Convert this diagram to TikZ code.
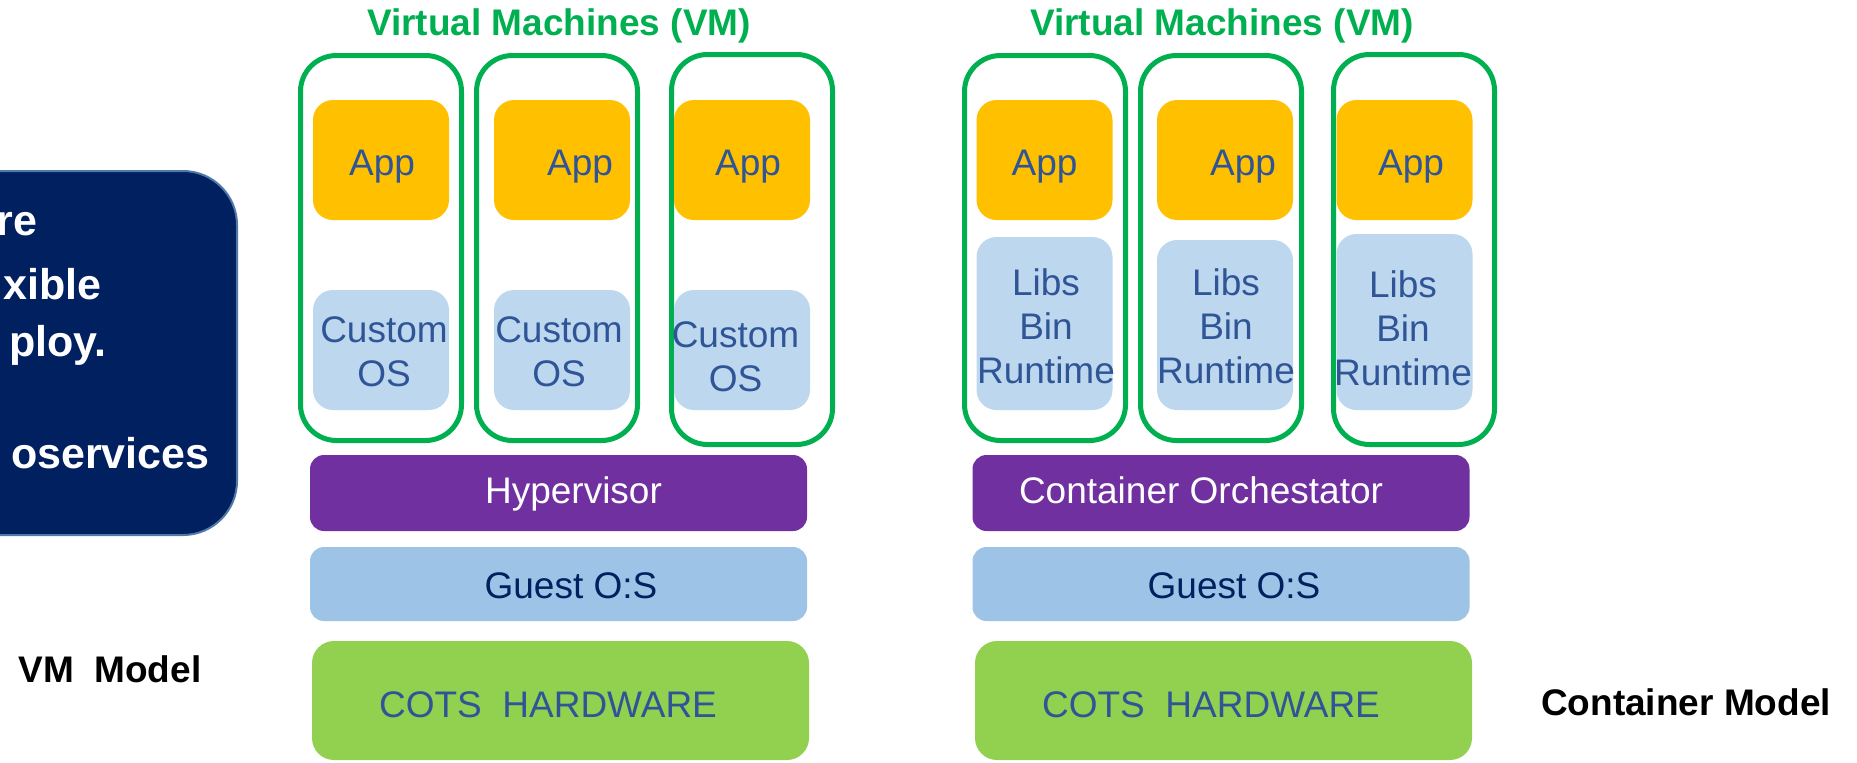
\documentclass[tikz,border=0pt]{standalone}
\usepackage{fontspec}
\setmainfont{Liberation Sans}
\definecolor{vmgreen}{HTML}{00B050}
\definecolor{appyellow}{HTML}{FFC000}
\definecolor{oslight}{HTML}{BDD7EE}
\definecolor{hyppurple}{HTML}{7030A0}
\definecolor{guestblue}{HTML}{9DC3E6}
\definecolor{hwgreen}{HTML}{92D050}
\definecolor{textblue}{HTML}{2F5597}
\definecolor{navy}{HTML}{002060}
\definecolor{edgeblue}{HTML}{4F79A8}
\tikzset{
  vmbox/.style={draw=vmgreen, line width=2.5pt, rounded corners=18pt,
    minimum width=80.5pt, minimum height=192.5pt, inner sep=0pt},
  appbox/.style={fill=appyellow, rounded corners=10pt,
    minimum width=68pt, minimum height=60pt, inner sep=0pt},
  osbox/.style={fill=oslight, rounded corners=10pt, minimum width=68pt, inner sep=0pt},
  layer/.style={rounded corners=7pt, minimum width=248.5pt, inner sep=0pt},
  lbl/.style={font=\fontsize{18.5}{22}\selectfont, text=textblue, inner sep=0pt},
  heading/.style={font=\bfseries\fontsize{18.5}{22}\selectfont, inner sep=0pt},
  introtxt/.style={font=\bfseries\fontsize{21.5}{26}\selectfont, text=white, inner sep=0pt, anchor=base east}
}
\begin{document}
\begin{tikzpicture}[x=0.5pt,y=-0.5pt]
  \useasboundingbox (0,0) rectangle (1857,762);
  \clip (0,0) rectangle (1857,762);
  % box on the left, cut by the page edge
  \node[fill=navy, draw=edgeblue, line width=1pt, rounded corners=27pt,
    minimum width=178.5pt, minimum height=182pt, inner sep=0pt] (intro) at (58.5,353) {};
  \node[introtxt] (intro1) at (38,235) {re};
  \node[introtxt] (intro2) at (102,299) {xible};
  \node[introtxt] (intro3) at (107,356) {ploy.};
  \node[introtxt] (intro4) at (210,468) {oservices};
  % titles
  \node[heading, text=vmgreen, anchor=base] (title1) at (559,35) {Virtual Machines (VM)};
  \node[heading, text=vmgreen, anchor=base] (title2) at (1222,35) {Virtual Machines (VM)};
  % VM frames
  \node[vmbox] (vm1) at (381,248) {};
  \node[vmbox] (vm2) at (557,248) {};
  \node[vmbox, minimum height=195pt] (vm3) at (752,249.5) {};
  \node[vmbox] (vm4) at (1045,248) {};
  \node[vmbox] (vm5) at (1221,248) {};
  \node[vmbox, minimum height=195pt] (vm6) at (1414,249.5) {};
  % apps
  \node[appbox] (app1) at (381,160) {};
  \node[appbox] (app2) at (562,160) {};
  \node[appbox] (app3) at (742,160) {};
  \node[appbox] (app4) at (1044.5,160) {};
  \node[appbox] (app5) at (1225,160) {};
  \node[appbox] (app6) at (1404.5,160) {};
  \node[lbl, anchor=base] (app1-t) at (382,175) {App};
  \node[lbl, anchor=base] (app2-t) at (580,175) {App};
  \node[lbl, anchor=base] (app3-t) at (748,175) {App};
  \node[lbl, anchor=base] (app4-t) at (1044.5,175) {App};
  \node[lbl, anchor=base] (app5-t) at (1243,175) {App};
  \node[lbl, anchor=base] (app6-t) at (1411,175) {App};
  % custom OS (VM model)
  \node[osbox, minimum height=60pt] (os1) at (381,350) {};
  \node[osbox, minimum height=60pt] (os2) at (562,350) {};
  \node[osbox, minimum height=60pt] (os3) at (742,350) {};
  \node[lbl, align=center] (os1-t) at (384,352) {Custom\\OS};
  \node[lbl, align=center] (os2-t) at (559,352) {Custom\\OS};
  \node[lbl, align=center] (os3-t) at (735.5,356.5) {Custom\\OS};
  % libs (container model)
  \node[osbox, minimum height=86.5pt] (libs1) at (1044.5,323.5) {};
  \node[osbox, minimum height=85pt] (libs2) at (1225,325) {};
  \node[osbox, minimum height=88pt] (libs3) at (1404.5,322) {};
  \node[lbl, align=center] (libs1-t) at (1046,326) {Libs\\Bin\\Runtime};
  \node[lbl, align=center] (libs2-t) at (1226,326) {Libs\\Bin\\Runtime};
  \node[lbl, align=center] (libs3-t) at (1403,328.5) {Libs\\Bin\\Runtime};
  % layers, left stack
  \node[layer, fill=hyppurple, minimum height=38pt] (hyp) at (558.5,493) {};
  \node[layer, fill=guestblue, minimum height=37pt] (guest1) at (558.5,584) {};
  \node[layer, fill=hwgreen, rounded corners=11pt, minimum height=59.5pt] (hw1) at (560.5,700.5) {};
  \node[lbl, text=white, anchor=base] (hyp-t) at (573.5,503) {Hypervisor};
  \node[lbl, text=navy, anchor=base] (guest1-t) at (571,598) {Guest O:S};
  \node[lbl, anchor=base] (hw1-t) at (548,717) {COTS\ \ HARDWARE};
  % layers, right stack
  \node[layer, fill=hyppurple, minimum height=38pt] (orch) at (1221,493) {};
  \node[layer, fill=guestblue, minimum height=37pt] (guest2) at (1221,584) {};
  \node[layer, fill=hwgreen, rounded corners=11pt, minimum height=59.5pt] (hw2) at (1223.5,700.5) {};
  \node[lbl, text=white, anchor=base] (orch-t) at (1201,503) {Container Orchestator};
  \node[lbl, text=navy, anchor=base] (guest2-t) at (1234,598) {Guest O:S};
  \node[lbl, anchor=base] (hw2-t) at (1211,717) {COTS\ \ HARDWARE};
  % model names
  \node[heading, anchor=base] (vmmodel) at (110,682) {VM\ \ Model};
  \node[heading, anchor=base] (ctmodel) at (1686,715) {Container Model};
\end{tikzpicture}
\end{document}
